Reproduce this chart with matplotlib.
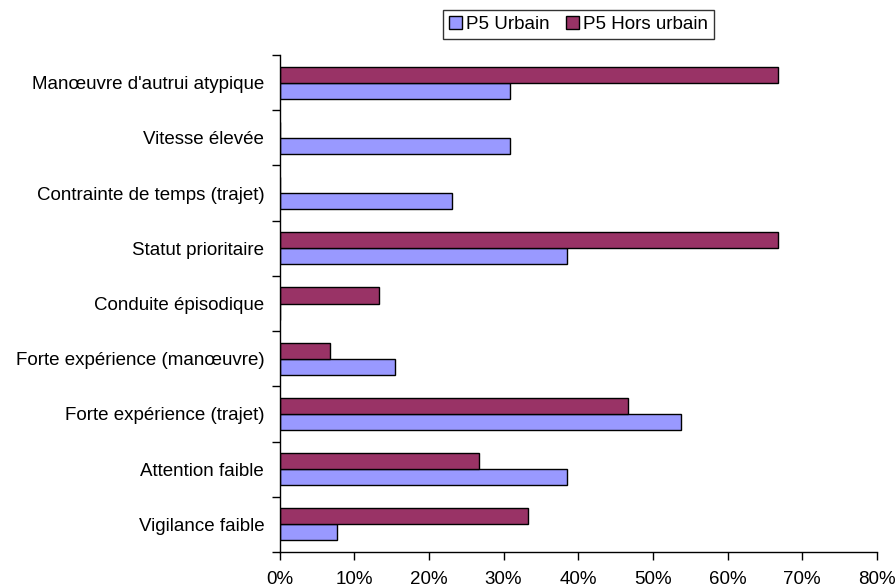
import numpy as np
import matplotlib
matplotlib.use('Agg')
import matplotlib.pyplot as plt
from matplotlib.ticker import FuncFormatter

# categories listed bottom to top
categories = ['Vigilance faible', 'Attention faible', 'Forte expérience (trajet)',
              'Forte expérience (manœuvre)', 'Conduite épisodique', 'Statut prioritaire',
              'Contrainte de temps (trajet)', 'Vitesse élevée', "Manœuvre d'autrui atypique"]
urbain = [7.7, 38.5, 53.8, 15.4, 0.0, 38.5, 23.1, 30.8, 30.8]
hors_urbain = [33.3, 26.7, 46.7, 6.7, 13.3, 66.7, 0.0, 0.0, 66.7]
x_ticks = [0, 10, 20, 30, 40, 50, 60, 70, 80]

plt.rcParams['font.family'] = ['Liberation Sans', 'DejaVu Sans']
fs = 13.5

fig = plt.figure(figsize=(8.96, 5.88), dpi=100)
ax = fig.add_axes([279.5 / 896, 1 - 552 / 588, (877 - 279.5) / 896, (552 - 55) / 588])

y = np.arange(len(categories))
h = 0.29
ax.barh(y - h / 2, urbain, height=h, color='#9999FF', edgecolor='black', linewidth=1.0,
        label='P5 Urbain')
ax.barh(y + h / 2, hors_urbain, height=h, color='#993366', edgecolor='black', linewidth=1.0,
        label='P5 Hors urbain')

ax.set_xlim(0, 80)
ax.set_ylim(-0.5, len(categories) - 0.5)
ax.set_xticks(x_ticks)
ax.xaxis.set_major_formatter(FuncFormatter(lambda v, p: f'{v:.0f}%'))
ax.set_yticks(y)
ax.set_yticklabels(categories)
ax.set_yticks(np.arange(len(categories) + 1) - 0.5, minor=True)
ax.tick_params(axis='y', which='major', length=0, pad=11, labelsize=fs)
ax.tick_params(axis='y', which='minor', length=6, direction='out', width=1)
ax.tick_params(axis='x', length=6, direction='out', width=1, pad=7.5, labelsize=fs)

for s in ['top', 'right']:
    ax.spines[s].set_visible(False)
for s in ['left', 'bottom']:
    ax.spines[s].set_linewidth(1.0)

handles, labels = ax.get_legend_handles_labels()
leg = fig.legend(handles, labels, loc='center', bbox_to_anchor=(578.5 / 896, 1 - 24.5 / 588),
                 ncol=2, fontsize=fs, frameon=True, fancybox=False, edgecolor='black',
                 handlelength=0.7, handleheight=0.7, handletextpad=0.2, columnspacing=0.9,
                 borderpad=0.3, borderaxespad=0)
leg.get_frame().set_linewidth(1.0)

fig.savefig('out.png', dpi=100)
